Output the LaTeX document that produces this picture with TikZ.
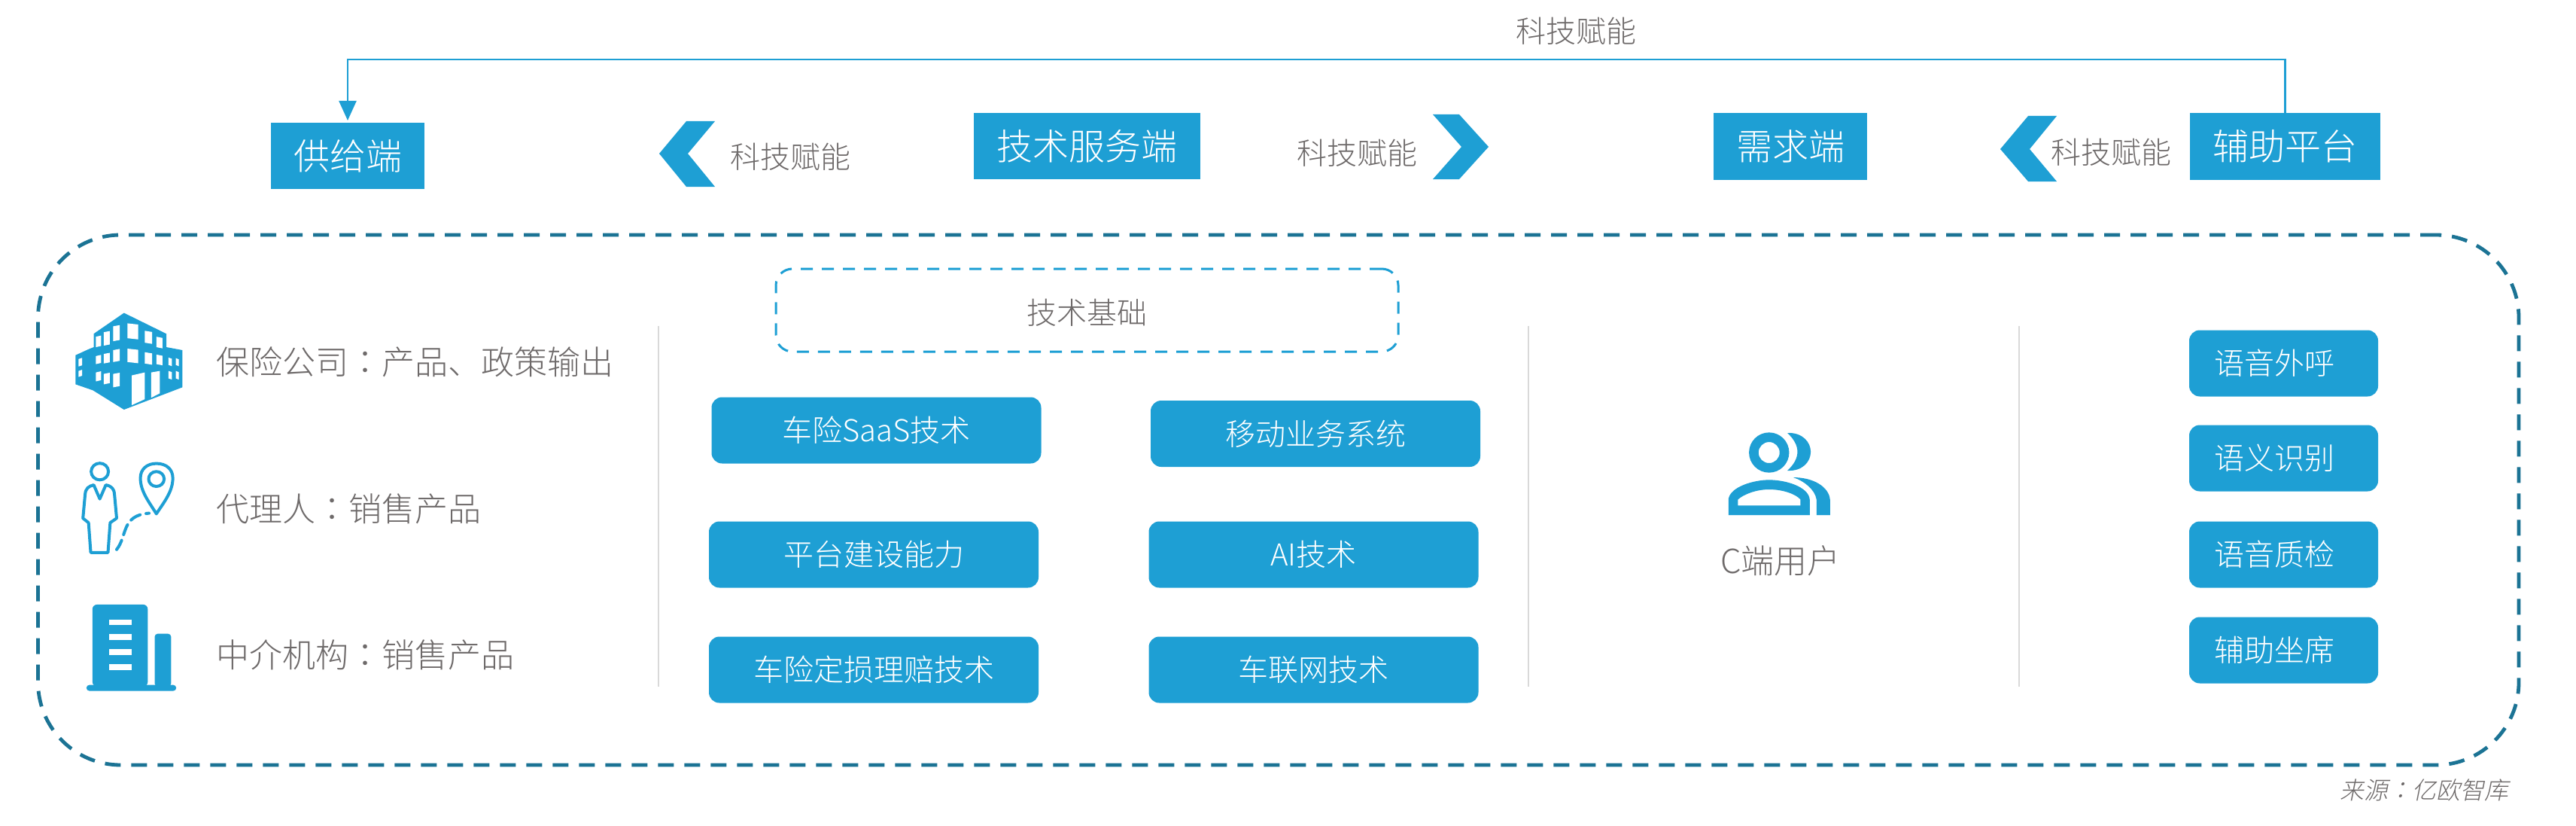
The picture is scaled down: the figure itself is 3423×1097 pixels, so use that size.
\documentclass[tikz,border=0pt]{standalone}
\usepackage{fontspec}
\usetikzlibrary{arrows.meta}
\setmainfont{Noto Sans CJK SC Light}
\newfontfamily\tcfont{Noto Sans CJK TC Light}
\newfontfamily\srcfont[FakeSlant=0.2]{Noto Sans CJK SC Light}
\newfontfamily\srctc[FakeSlant=0.2]{Noto Sans CJK TC Light}
\definecolor{brand}{HTML}{1E9FD4}
\definecolor{framec}{HTML}{1B7394}
\definecolor{txt}{HTML}{6E6A6A}
\definecolor{rule}{HTML}{D9D9D9}
\newcommand{\cl}{{\tcfont ：}}
\tikzset{
  headbox/.style={fill=brand,text=white,font=\fontsize{24}{28}\selectfont,inner sep=0pt,outer sep=0pt,minimum height=44pt},
  techbtn/.style={fill=brand,text=white,rounded corners=7pt,font=\fontsize{20}{24}\selectfont,inner sep=0pt,outer sep=0pt,minimum width=219pt,minimum height=44pt},
  sidebtn/.style={techbtn,minimum width=125.5pt},
  lbl/.style={text=txt,font=\fontsize{20}{24}\selectfont,inner sep=0pt,outer sep=0pt},
  leftlbl/.style={text=txt,font=\fontsize{22}{26}\selectfont,inner sep=0pt,outer sep=0pt,anchor=west},
  divider/.style={draw=rule,line width=1pt},
  chev/.style={fill=brand,draw=none},
  framebox/.style={draw=framec,line width=2.4pt,dash pattern=on 10.5pt off 7pt,rounded corners=55pt,inner sep=0pt,outer sep=0pt,minimum width=1648.25pt,minimum height=352pt},
  basebox/.style={draw=brand,line width=1.5pt,dash pattern=on 8pt off 6pt,rounded corners=11pt,inner sep=0pt,outer sep=0pt,minimum width=413.5pt,minimum height=55pt},
  iconline/.style={draw=brand,line width=2pt,line join=round}
}
\begin{document}
\begin{tikzpicture}[x=0.5pt,y=-0.5pt]
\useasboundingbox (0,0) rectangle (3423,1097);
\fill[white] (0,0) rectangle (3423,1097);
% frame
\node[framebox] (frame) at (1698.75,664) {};
% header
\node[headbox,minimum width=102pt] (sup) at (462,207) {供给端};
\node[headbox,minimum width=150.5pt] (tech) at (1444.5,194) {技术服务端};
\node[headbox,minimum width=102pt] (dem) at (2379,194.5) {需求端};
\node[headbox,minimum width=126.5pt] (aux) at (3036.5,194.5) {辅助平台};
\coordinate (topy) at (0,79);
\draw[brand,line width=1.2pt,-{Triangle[length=13pt,width=11.5pt]},shorten >=1.5pt] (aux.north) |- (topy -| sup.north) -- (sup.north);
\node[lbl] (t0) at (2094,41) {科技赋能};
\node[lbl] (t1) at (1050,208) {科技赋能};
\node[lbl] (t2) at (1803,203) {科技赋能};
\node[lbl] (t3) at (2805,202) {科技赋能};
\fill[chev] (912,161) -- (950,161) -- (914,204) -- (950,248) -- (912,248) -- (876,204) -- cycle;
\fill[chev] (1904,152) -- (1939,152) -- (1978,195) -- (1939,238) -- (1904,238) -- (1942,195) -- cycle;
\fill[chev] (2695,154) -- (2733,154) -- (2697,198) -- (2733,241) -- (2695,241) -- (2658,198) -- cycle;
% dividers
\draw[divider] (875,433) -- (875,912);
\draw[divider] (2031,433) -- (2031,912);
\draw[divider] (2683,433) -- (2683,912);
% left labels
\node[leftlbl] (a1) at (287,481) {保险公司\cl 产品、政策输出};
\node[leftlbl] (a2) at (287,676) {代理人\cl 销售产品};
\node[leftlbl] (a3) at (287,870) {中介机构\cl 销售产品};
% centre
\node[basebox] (base) at (1444.5,412) {};
\node[lbl] (baset) at (1444,415) {技术基础};
\node[techbtn] (b1) at (1164.5,571.5) {车险SaaS技术};
\node[techbtn] (b2) at (1748,576) {移动业务系统};
\node[techbtn] (b3) at (1161,736.5) {平台建设能力};
\node[techbtn] (b4) at (1745.5,736.5) {AI技术};
\node[techbtn] (b5) at (1161,889.5) {车险定损理赔技术};
\node[techbtn] (b6) at (1745.5,889.5) {车联网技术};
% c user
\node[lbl,font=\fontsize{22}{26}\selectfont] (cuser) at (2366,745) {C端用户};
\begin{scope}[x=0.16667pt,y=-0.16667pt,shift={(2200*3,500*3)}]
\fill[brand,even odd rule] (452,303) circle[radius=80] (452,303) circle[radius=42];
\fill[brand] (525,225) .. controls (585,222) and (618,262) .. (618,300) .. controls (618,340) and (585,378) .. (525,375) .. controls (552,350) and (565,325) .. (565,300) .. controls (565,275) and (552,250) .. (525,225) -- cycle;
\fill[brand,even odd rule] (290,552) -- (290,490) .. controls (295,440) and (390,412) .. (452,412) .. controls (520,412) and (610,440) .. (614,490) -- (614,552) -- cycle
 (328,514) -- (328,490) .. controls (350,470) and (400,450) .. (452,450) .. controls (510,450) and (560,470) .. (577,490) -- (577,514) -- cycle;
\fill[brand] (548,402) .. controls (630,402) and (690,440) .. (695,490) -- (695,552) -- (641,552) -- (641,490) .. controls (635,450) and (590,415) .. (548,402) -- cycle;
\end{scope}
% right
\node[sidebtn] (r1) at (3034.5,482.5) {语音外呼\hspace*{12pt}};
\node[sidebtn] (r2) at (3034.5,608.5) {语义识别\hspace*{12pt}};
\node[sidebtn] (r3) at (3034.5,736.5) {语音质检\hspace*{12pt}};
\node[sidebtn] (r4) at (3034.5,863.5) {辅助坐席\hspace*{12pt}};
% source
\node[text=txt,font=\fontsize{16}{20}\selectfont\srcfont,inner sep=0pt] (src) at (3221,1049) {来源{\srctc ：}亿欧智库};
% icons, in the coordinates of the enlarged crop
\begin{scope}[x=0.28703pt,y=-0.19763pt,shift={(0,961.4)}]
% building
\fill[brand] (287,90) -- (385,160) -- (385,205) -- (422,215) -- (422,340) -- (287,415) -- (215,350) -- (175,330) -- (175,232) -- (205,212) -- (217,205) -- (217,160) -- cycle;
\foreach \x/\a/\b/\w in {222/170/205/12,240/155/200/14,262/135/185/15,182/245/270/8,222/235/262/12,240/228/260/14,262/215/255/15,182/285/305/8,222/290/320/12,240/295/330/14,262/295/340/15}
  \fill[white] (\x,\a) -- ++(\w,-4) -- ++(0,{\b-\a}) -- ++(-\w,4) -- cycle;
\foreach \x/\a/\b/\w in {295/125/175/25,335/150/190/17,362/170/205/14,295/210/255/25,335/222/260/17,362/230/262/14,390/240/265/8,407/242/265/7,390/285/310/8,407/285/310/7}
  \fill[white] (\x,\a) -- ++(\w,4) -- ++(0,{\b-\a}) -- ++(-\w,-4) -- cycle;
\fill[white] (305,300) -- (335,290) -- (335,380) -- (305,400) -- cycle;
\fill[white] (350,290) -- (370,285) -- (370,360) -- (350,375) -- cycle;
% agent
\draw[iconline] (231,623) circle[x radius=20,y radius=28];
\draw[iconline] (217,668) -- (231,715) -- (245,668) .. controls (258,672) and (264,680) .. (265,700) -- (270,780) -- (255,795) -- (250,895) -- (210,895) -- (205,795) -- (192,780) -- (197,700) .. controls (198,680) and (205,672) .. (217,668) -- cycle;
\draw[iconline] (362,765) .. controls (345,725) and (325,690) .. (325,645) .. controls (325,615) and (340,596) .. (362,596) .. controls (385,596) and (400,615) .. (400,645) .. controls (400,690) and (380,725) .. (362,765) -- cycle;
\draw[iconline] (362,648) circle[x radius=18,y radius=25];
\draw[brand,line width=2pt,dash pattern=on 7pt off 4pt,line cap=round] (270,885) .. controls (295,840) and (280,770) .. (345,763);
% tower
\fill[brand,rounded corners=3pt] (214,1070) rectangle (342,1345);
\fill[brand,rounded corners=2pt] (358,1168) rectangle (396,1345);
\fill[brand,rounded corners=2pt] (200,1340) rectangle (408,1360);
\foreach \y in {1120,1170,1220,1270}
  \fill[white] (253,\y) rectangle (305,{\y+19});
\end{scope}
\end{tikzpicture}
\end{document}
